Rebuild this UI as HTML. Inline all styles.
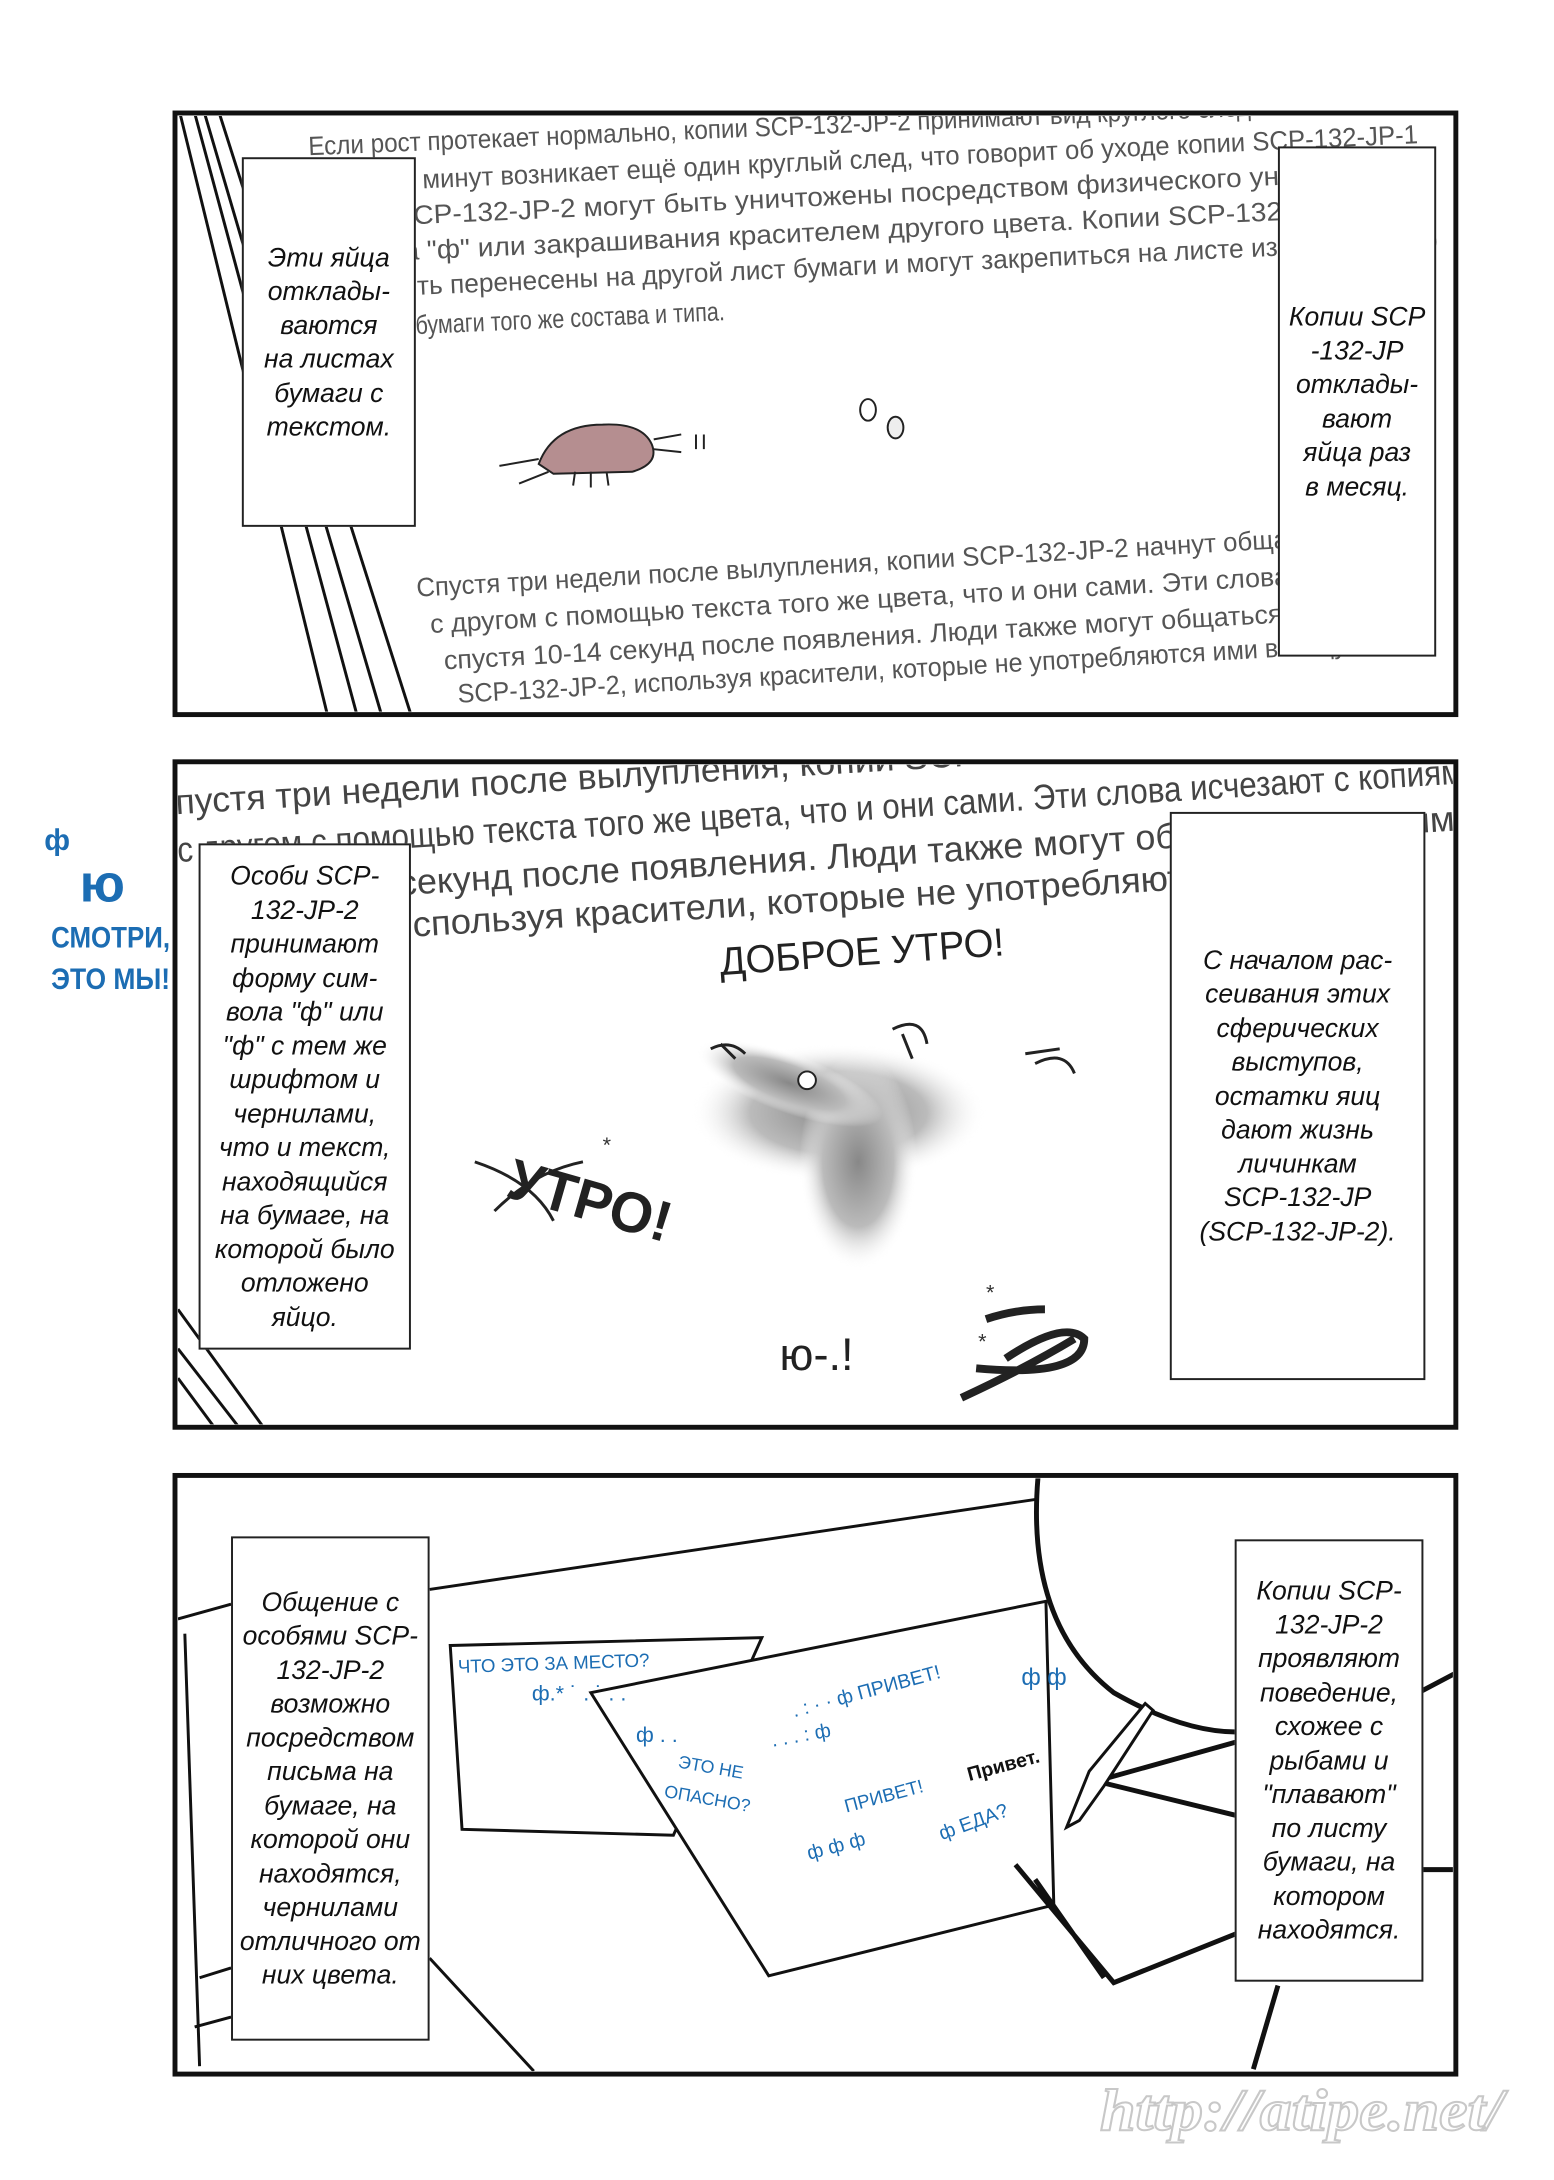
<!DOCTYPE html>
<html><head><meta charset="utf-8">
<style>
html,body{margin:0;padding:0;background:#fff;}
body{width:1554px;height:2180px;position:relative;overflow:hidden;font-family:"Liberation Sans Narrow","Liberation Sans","DejaVu Sans",sans-serif;}
#w{position:absolute;left:0;top:0;width:1554px;height:2180px;transform-origin:175px 113px;transform:scale(0.983);}
.cap{position:absolute;background:#fff;border:2px solid #222;box-sizing:border-box;display:flex;align-items:center;justify-content:center;text-align:center;font-size:27px;line-height:34.5px;color:#111;font-style:italic;}
svg{position:absolute;left:0;top:0;}
</style></head><body>
<div id="w">
<svg width="1554" height="2180" viewBox="0 0 1554 2180" xmlns="http://www.w3.org/2000/svg">
<defs>
<clipPath id="c1"><rect x="178" y="116" width="1297" height="606"/></clipPath>
<clipPath id="c2"><rect x="178" y="776" width="1297" height="671"/></clipPath>
<clipPath id="c3"><rect x="178" y="1502" width="1297" height="603"/></clipPath>
<radialGradient id="g" cx="50%" cy="50%" r="50%"><stop offset="0" stop-color="#888"/><stop offset="0.6" stop-color="#bbb"/><stop offset="1" stop-color="#fff" stop-opacity="0"/></radialGradient>
</defs>

<!-- PANEL 1 -->
<g clip-path="url(#c1)">
<g stroke="#111" stroke-width="3" fill="none">
<line x1="180" y1="113" x2="330" y2="725"/>
<line x1="195" y1="113" x2="360" y2="725"/>
<line x1="205" y1="113" x2="385" y2="725"/>
<line x1="220" y1="113" x2="415" y2="725"/>
</g>
<g fill="#555" font-size="27" font-family="Liberation Sans Narrow, Liberation Sans, sans-serif">
<text transform="translate(311,156) rotate(-2.4)" textLength="980" lengthAdjust="spacingAndGlyphs">Если рост протекает нормально, копии SCP-132-JP-2 принимают вид круглого следа.</text>
<text transform="translate(311,195) rotate(-2.6)" textLength="1130" lengthAdjust="spacingAndGlyphs">Через 30 минут возникает ещё один круглый след, что говорит об уходе копии SCP-132-JP-1</text>
<text transform="translate(311,231) rotate(-2.6)" textLength="1130" lengthAdjust="spacingAndGlyphs">Копии SCP-132-JP-2 могут быть уничтожены посредством физического уничтожения</text>
<text transform="translate(311,267) rotate(-2.6)" textLength="1060" lengthAdjust="spacingAndGlyphs">символа "ф" или закрашивания красителем другого цвета. Копии SCP-132-JP-2</text>
<text transform="translate(311,303) rotate(-2.6)" textLength="1150" lengthAdjust="spacingAndGlyphs">могут быть перенесены на другой лист бумаги и могут закрепиться на листе изготовленного</text>
<text transform="translate(420,338) rotate(-2.6)" textLength="315" lengthAdjust="spacingAndGlyphs">бумаги того же состава и типа.</text>
<text transform="translate(421,605) rotate(-3.2)" textLength="1000" lengthAdjust="spacingAndGlyphs">Спустя три недели после вылупления, копии SCP-132-JP-2 начнут общаться друг</text>
<text transform="translate(435,642) rotate(-3.2)" textLength="1000" lengthAdjust="spacingAndGlyphs">с  другом с помощью текста того же цвета, что и они сами. Эти слова исчезают</text>
<text transform="translate(449,679) rotate(-3.2)" textLength="990" lengthAdjust="spacingAndGlyphs">спустя 10-14 секунд после появления. Люди также могут общаться с копиями</text>
<text transform="translate(463,713) rotate(-3.2)" textLength="910" lengthAdjust="spacingAndGlyphs">SCP-132-JP-2, используя  красители, которые не употребляются ими в пищу.</text>
</g>
<g stroke="#222" stroke-width="2">
<path d="M545,470 Q560,430 610,430 Q650,428 660,450 Q668,470 640,478 L560,480 Z" fill="#b58e90"/>
<path d="M545,465 L505,472 M555,478 L525,490" fill="none"/>
<path d="M662,445 L690,440 M662,455 L690,458 M582,478 L580,492 M598,478 L598,494 M614,478 L616,492" fill="none"/>
<path d="M705,440 L705,455 M713,440 L713,455" fill="none"/>
<ellipse cx="880" cy="415" rx="8" ry="11" fill="none"/>
<ellipse cx="908" cy="433" rx="8" ry="11" fill="#eee"/>
</g>
</g>
<rect x="175" y="113" width="1303" height="612" fill="none" stroke="#111" stroke-width="5"/>

<!-- PANEL 2 -->
<g clip-path="url(#c2)">
<g stroke="#111" stroke-width="3" fill="none">
<line x1="178" y1="1370" x2="240" y2="1450"/>
<line x1="178" y1="1400" x2="215" y2="1450"/>
<line x1="178" y1="1330" x2="265" y2="1450"/>
</g>
<g fill="#444" font-size="36" font-family="Liberation Sans Narrow, Liberation Sans, sans-serif">
<text transform="translate(150,828) rotate(-3.5)" textLength="1300" lengthAdjust="spacingAndGlyphs">Спустя три недели после вылупления, копии SCP-132-JP-2 начнут общаться</text>
<text transform="translate(178,875) rotate(-3.5)" textLength="1310" lengthAdjust="spacingAndGlyphs">с  другом с помощью текста того же цвета, что и они сами. Эти слова исчезают с копиям</text>
<text transform="translate(300,915) rotate(-3.5)" textLength="1200" lengthAdjust="spacingAndGlyphs">10-14 секунд после появления. Люди также могут общаться с копиями</text>
<text transform="translate(300,958) rotate(-3.5)" textLength="1150" lengthAdjust="spacingAndGlyphs">JP-2, используя  красители, которые не употребляются ими в пищу</text>
</g>
<text transform="translate(730,990) rotate(-4)" font-size="40" fill="#222" textLength="290" lengthAdjust="spacingAndGlyphs">ДОБРОЕ УТРО!</text>
<text transform="translate(510,1215) rotate(16)" font-size="58" fill="#222" font-weight="bold" textLength="170" lengthAdjust="spacingAndGlyphs">УТРО!</text>
<text x="790" y="1392" font-size="46" fill="#222">ю-.!</text>
<ellipse cx="850" cy="1130" rx="150" ry="70" fill="url(#g)"/>
<ellipse cx="870" cy="1180" rx="60" ry="110" fill="url(#g)"/>
<ellipse cx="800" cy="1100" rx="100" ry="30" fill="url(#g)" transform="rotate(20 800 1100)"/>
<circle cx="818" cy="1097" r="9" fill="#fff" stroke="#222" stroke-width="2"/>
<g stroke="#222" fill="none" stroke-width="3">
<path d="M480,1180 Q540,1200 560,1240 M500,1230 Q540,1190 590,1180"/>
<path d="M720,1065 Q740,1055 755,1070 M730,1060 L745,1075"/>
<path d="M905,1045 Q935,1030 940,1060 M915,1050 L925,1075"/>
<path d="M1040,1070 L1075,1065 M1050,1080 Q1080,1065 1090,1090"/>
<path d="M975,1420 Q1040,1390 1090,1360 M990,1390 Q1100,1400 1100,1360 Q1080,1340 1020,1380 M1000,1340 Q1030,1330 1060,1330" stroke-width="8"/>
</g>
<g fill="#333" font-size="22"><text x="610" y="1170">*</text><text x="1000" y="1320">*</text><text x="992" y="1370">*</text></g>
</g>
<rect x="175" y="773" width="1303" height="677" fill="none" stroke="#111" stroke-width="5"/>
<g fill="#1c6db3" font-family="Liberation Sans, sans-serif" font-weight="bold">
<text x="42" y="863" font-size="30">ф</text>
<text x="78" y="915" font-size="54">ю</text>
<text x="49" y="962" font-size="30" textLength="121" lengthAdjust="spacingAndGlyphs">СМОТРИ,</text>
<text x="49" y="1004" font-size="30" textLength="121" lengthAdjust="spacingAndGlyphs">ЭТО МЫ!</text>
</g>

<!-- PANEL 3 -->
<g clip-path="url(#c3)">
<g stroke="#111" stroke-width="3" fill="#fff">
<path d="M178,1645 L232,1630 M185,1660 L200,2100 M434,1990 L540,2105 M200,2010 L232,2000 M195,2060 L232,2050" fill="none"/>
<path d="M434,1615 L1053,1523" fill="none"/>
<path d="M1053,1500 Q1040,1650 1130,1720 Q1200,1760 1255,1760" fill="none" stroke-width="5"/>
<polygon points="455,1672 772,1664 682,1865 467,1859"/>
<polygon points="598,1720 1061,1627 1069,1936 779,2008"/>
<path d="M1112,1810 L1255,1770 M1112,1810 L1255,1845 M1030,1895 L1130,2015 L1255,1965 M1050,1910 L1120,2010" fill="none" stroke-width="5"/>
<polygon points="1082,1857 1105,1800 1162,1731 1170,1738 1120,1815 1095,1850"/>
<path d="M1297,2018 L1272,2103 M1440,1900 L1478,1900 M1440,1720 L1478,1700" fill="none" stroke-width="5"/>
</g>
<g fill="#1c6db3" font-family="Liberation Sans Narrow, Liberation Sans, sans-serif">
<text transform="translate(463,1700) rotate(-2)" font-size="19" textLength="195" lengthAdjust="spacingAndGlyphs">ЧТО ЭТО ЗА МЕСТО?</text>
<text x="538" y="1728" font-size="22">ф.* ˙ . ˙ . .</text>
<text x="644" y="1770" font-size="22">ф . .</text>
<text transform="translate(686,1796) rotate(10)" font-size="18">ЭТО НЕ</text>
<text transform="translate(672,1826) rotate(10)" font-size="18">ОПАСНО?</text>
<text transform="translate(805,1745) rotate(-15)" font-size="20">. : · · ф ПРИВЕТ!</text>
<text transform="translate(783,1775) rotate(-10)" font-size="20">. . . : ф</text>
<text x="1036" y="1712" font-size="24">ф ф</text>
<text transform="translate(858,1842) rotate(-15)" font-size="19">ПРИВЕТ!</text>
<text transform="translate(820,1890) rotate(-15)" font-size="20">ф ф ф</text>
<text transform="translate(955,1870) rotate(-20)" font-size="20">ф ЕДА?</text>
</g>
<text transform="translate(983,1810) rotate(-15)" font-size="20" fill="#111" font-weight="bold">Привет.</text>
</g>
<rect x="175" y="1499" width="1303" height="609" fill="none" stroke="#111" stroke-width="5"/>

<text x="1116" y="2165" font-family="Liberation Serif, serif" font-size="60" font-weight="bold" font-style="italic" fill="#fff" stroke="#c8c8c8" stroke-width="2" textLength="410" lengthAdjust="spacingAndGlyphs">http://atipe.net/</text>
</svg>

<div class="cap" style="left:243px;top:158px;width:177px;height:376px;">Эти яйца<br>отклады-<br>ваются<br>на листах<br>бумаги с<br>текстом.</div>
<div class="cap" style="left:1297px;top:147px;width:161px;height:519px;">Копии SCP<br>-132-JP<br>отклады-<br>вают<br>яйца раз<br>в месяц.</div>
<div class="cap" style="left:199px;top:856px;width:216px;height:515px;">Особи SCP-<br>132-JP-2<br>принимают<br>форму сим-<br>вола "ф" или<br>"ф" с тем же<br>шрифтом и<br>чернилами,<br>что и текст,<br>находящийся<br>на бумаге, на<br>которой было<br>отложено<br>яйцо.</div>
<div class="cap" style="left:1187px;top:824px;width:260px;height:578px;">С началом рас-<br>сеивания этих<br>сферических<br>выступов,<br>остатки яиц<br>дают жизнь<br>личинкам<br>SCP-132-JP<br>(SCP-132-JP-2).</div>
<div class="cap" style="left:232px;top:1561px;width:202px;height:513px;">Общение с<br>особями SCP-<br>132-JP-2<br>возможно<br>посредством<br>письма на<br>бумаге, на<br>которой они<br>находятся,<br>чернилами<br>отличного от<br>них цвета.</div>
<div class="cap" style="left:1253px;top:1564px;width:192px;height:450px;">Копии SCP-<br>132-JP-2<br>проявляют<br>поведение,<br>схожее с<br>рыбами и<br>"плавают"<br>по листу<br>бумаги, на<br>котором<br>находятся.</div>
</div>
</body></html>
